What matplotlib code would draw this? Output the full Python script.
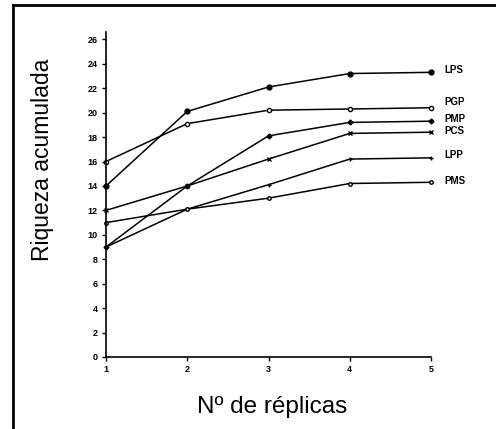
import matplotlib
matplotlib.use("Agg")
import matplotlib.pyplot as plt
from matplotlib.lines import Line2D

plt.rcParams['font.family'] = ['Liberation Sans', 'DejaVu Sans']

replicas = [1, 2, 3, 4, 5]
series_names = ["LPS", "PGP", "PMP", "PCS", "LPP", "PMS"]
LPS = [14, 20.1, 22.1, 23.2, 23.3]
PGP = [16, 19.1, 20.2, 20.3, 20.4]
PMP = [9, 14, 18.1, 19.2, 19.3]
PCS = [12, 14, 16.2, 18.3, 18.4]
LPP = [9, 12.1, 14.1, 16.2, 16.3]
PMS = [11, 12.1, 13.0, 14.2, 14.3]
yticks = list(range(0, 27, 2))
xticks = [1, 2, 3, 4, 5]

data = [LPS, PGP, PMP, PCS, LPP, PMS]
markers = ['o', 'o', 'D', 'x', '+', 'o']
mfcs = ['black', 'white', 'black', 'black', 'black', 'white']
msizes = [3.5, 3, 2.5, 3.5, 3.5, 2.5]
label_offsets = [0.2, 0.45, 0.2, 0.1, 0.2, 0.1]

fig = plt.figure(figsize=(4.96, 4.29), dpi=100)
ax = fig.add_axes([106/496, 1-357/429, (431-106)/496, (357-32)/429])

for name, vals, m, fc, ms, off in zip(series_names, data, markers, mfcs, msizes, label_offsets):
    ax.plot(replicas, vals, color='black', lw=1.1, marker=m, markersize=ms,
            markerfacecolor=fc, markeredgecolor='black', markeredgewidth=1, clip_on=False)
    ax.text(5.17, vals[-1] + off, name, fontsize=7, fontweight='bold',
            va='center', ha='left')

ax.set_xlim(1, 5)
ax.set_ylim(0, 26.6)
ax.set_xticks(xticks)
ax.set_yticks(yticks)
ax.tick_params(axis='both', labelsize=6.5, length=3, width=1, direction='out', pad=3)
for lab in ax.get_xticklabels() + ax.get_yticklabels():
    lab.set_fontweight('bold')
ax.spines['top'].set_visible(False)
ax.spines['right'].set_visible(False)
ax.spines['left'].set_linewidth(1.2)
ax.spines['bottom'].set_linewidth(1.2)

fig.text(43/496, 1-160/429, "Riqueza acumulada", rotation=90, fontsize=16.5,
         ha='center', va='center')
fig.text(272/496, 1-407/429, "Nº de réplicas", fontsize=17.5, ha='center', va='center')

# Page frame (left and top edges)
fig.add_artist(Line2D([13/496, 13/496], [0, 1-5/429], transform=fig.transFigure,
                      color='black', lw=2))
fig.add_artist(Line2D([13/496, 1], [1-5/429, 1-5/429], transform=fig.transFigure,
                      color='black', lw=2))

fig.savefig("out.png", dpi=100)
